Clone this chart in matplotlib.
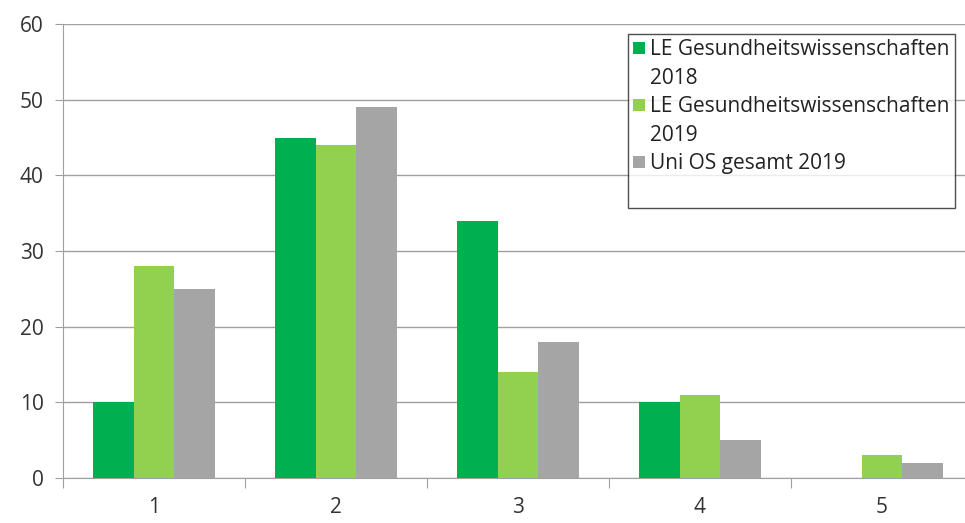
import matplotlib
matplotlib.use('Agg')
import matplotlib.pyplot as plt
import numpy as np
from matplotlib.patches import Patch

# Daten
kategorien = ['1', '2', '3', '4', '5']
le_2018 = [10, 45, 34, 10, 0]
le_2019 = [28, 44, 14, 11, 3]
uni_os_2019 = [25, 49, 18, 5, 2]
serien = ['LE Gesundheitswissenschaften\n2018',
          'LE Gesundheitswissenschaften\n2019',
          'Uni OS gesamt 2019']
farben = ['#00B050', '#92D050', '#A5A5A5']

plt.rcParams['font.family'] = ['Open Sans', 'DejaVu Sans']

fig = plt.figure(figsize=(9.65, 5.23), dpi=100)
ax = fig.add_axes([63 / 965, 1 - 478 / 523, 910 / 965, 454 / 523])

x = np.arange(len(kategorien))
breite = 0.223
bars = []
for i, (werte, farbe, name) in enumerate(zip([le_2018, le_2019, uni_os_2019], farben, serien)):
    bars.append(ax.bar(x + (i - 1) * breite, werte, breite, color=farbe, label=name, zorder=3))

ax.set_xlim(-0.5, len(kategorien) - 0.5)
ax.set_ylim(0, 60)
ax.set_yticks(range(0, 61, 10))
ax.yaxis.grid(True, color='#A0A0A0', linewidth=1, zorder=0)

# Kategorieachse: Striche an den Grenzen, Beschriftung mittig
ax.set_xticks(np.arange(-0.5, len(kategorien) + 0.5, 1))
ax.set_xticklabels([])
ax.set_xticks(x, minor=True)
ax.set_xticklabels(kategorien, minor=True)
ax.tick_params(axis='x', which='major', length=7, color='#A0A0A0', direction='out')
ax.tick_params(axis='x', which='minor', length=0, pad=14, labelsize=15, labelcolor='#333333')
ax.tick_params(axis='y', length=6, color='#A0A0A0', labelsize=15, labelcolor='#333333', pad=8)

for s in ['top', 'right']:
    ax.spines[s].set_visible(False)
ax.spines['left'].set_color('#A0A0A0')
ax.spines['bottom'].set_color('#A0A0A0')

# Legende: Kästchen auf Höhe der ersten Zeile, Folgezeilen ohne Kästchen
leer = Patch(facecolor='none', edgecolor='none')
handles, labels = [], []
for b, name in zip(bars, serien):
    zeilen = name.split('\n')
    handles.append(b)
    labels.append(zeilen[0])
    for z in zeilen[1:]:
        handles.append(leer)
        labels.append(z)
handles.append(leer)
labels.append('')
leg = fig.legend(handles, labels, loc='upper left',
                 bbox_to_anchor=(628 / 965, 1 - 34 / 523),
                 fontsize=15, frameon=True, fancybox=False,
                 handlelength=0.55, handleheight=0.55, handletextpad=0.25,
                 labelspacing=0.36, borderpad=0.25, borderaxespad=0)
leg.get_frame().set_edgecolor('#222222')
leg.get_frame().set_linewidth(1.0)
for t in leg.get_texts():
    t.set_color('#222222')

plt.savefig('out.png', dpi=100)
plt.close()
